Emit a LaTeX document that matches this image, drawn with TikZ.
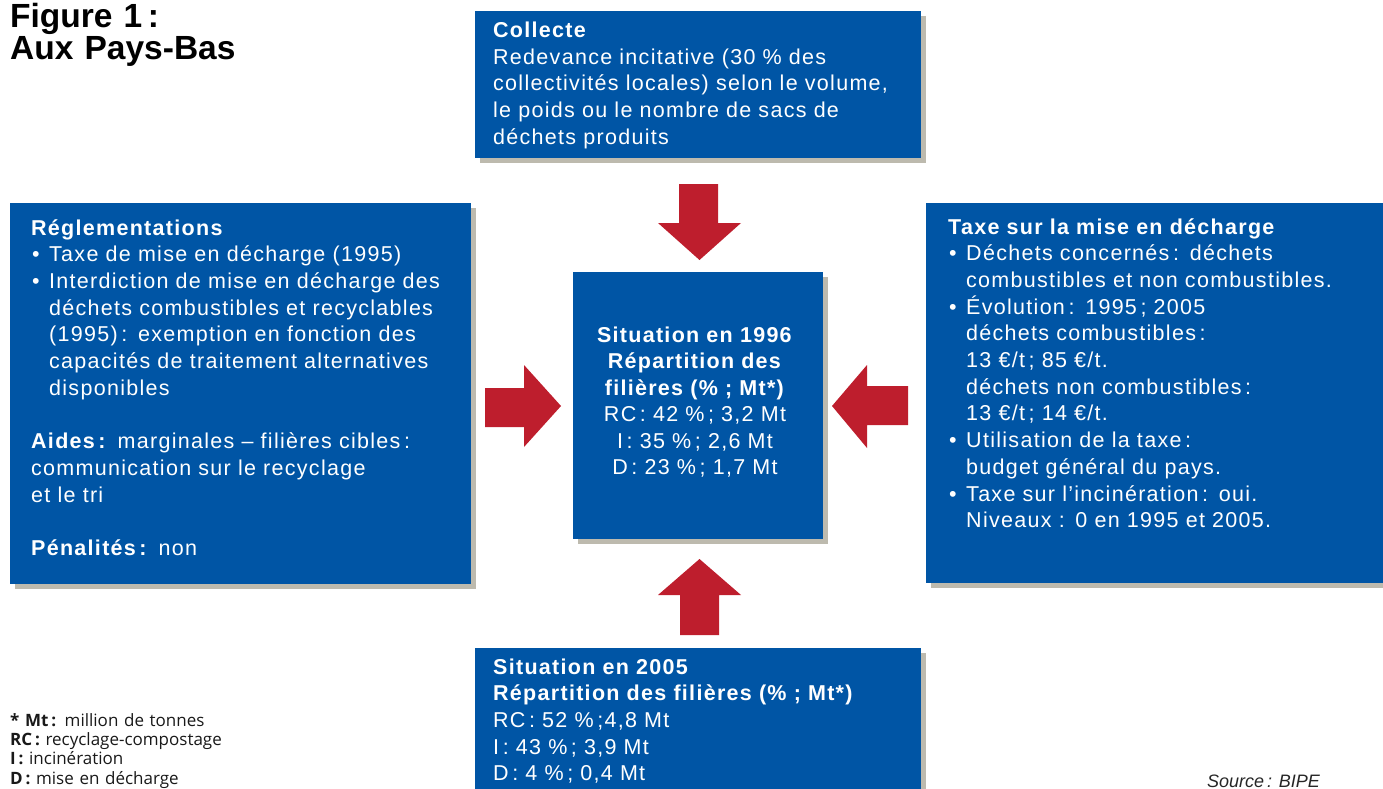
\documentclass[tikz,border=0pt]{standalone}
\usepackage{fontspec}
\setmainfont{Liberation Sans}[LetterSpace=6]
\newfontfamily\titlefont{Liberation Sans}
\newfontfamily\notefont{Open Sans}
\usetikzlibrary{shadows}
\definecolor{boxblue}{HTML}{0055A5}
\definecolor{arrowred}{HTML}{BE1E2D}
\definecolor{shadowgray}{HTML}{BDBAAE}
\newcommand{\bulitem}{\makebox[18pt][l]{\hspace{1pt}\textbullet}}
\newcommand{\indline}{\hspace*{18pt}}
\tikzset{
  bluebox/.style={fill=boxblue, draw=none, inner sep=0pt, anchor=north west,
    general shadow={fill=shadowgray, shadow xshift=5pt, shadow yshift=-5pt}},
  boxtext/.style={text=white, inner sep=0pt, anchor=base west, text width=460pt,
    font=\fontsize{21.5}{26.7}\selectfont},
  centertext/.style={text=white, inner sep=0pt, anchor=base, text width=280pt, align=center,
    font=\fontsize{21.5}{26.5}\selectfont},
  redarrow/.style={fill=arrowred, draw=none},
  notetext/.style={text=black!90, inner sep=0pt, anchor=base west, text width=300pt,
    font=\notefont\fontsize{17}{19.4}\selectfont},
}
\begin{document}
\begin{tikzpicture}[x=1pt,y=-1pt]
\useasboundingbox (0,0) rectangle (1383,789);

% title
\node[inner sep=0pt, anchor=base west, text width=300pt, font=\titlefont\bfseries\fontsize{33.5}{29}\selectfont] (title) at (10,28) {Figure 1\,:\\Aux Pays-Bas};

% boxes
\node[bluebox, minimum width=446pt, minimum height=147pt] (collecte) at (475,11) {};
\node[bluebox, minimum width=461pt, minimum height=381pt] (regl) at (10,203) {};
\node[bluebox, minimum width=250pt, minimum height=267pt] (situation) at (573,272) {};
\node[bluebox, minimum width=457pt, minimum height=380pt] (taxe) at (926,203) {};
\node[bluebox, minimum width=446pt, minimum height=160pt] (bilan) at (475,648) {};

% arrows
\draw[redarrow] (679,184) -- (718,184) -- (718,223) -- (741,223) -- (699.5,260) -- (658,223) -- (679,223) -- cycle;
\draw[redarrow] (680,635) -- (719,635) -- (719,595) -- (741,595) -- (699.5,559) -- (658,595) -- (680,595) -- cycle;
\draw[redarrow] (485,388) -- (524,388) -- (524,365) -- (561,406) -- (524,447) -- (524,427) -- (485,427) -- cycle;
\draw[redarrow] (908,386) -- (867,386) -- (867,365) -- (832,406) -- (867,448) -- (867,425) -- (908,425) -- cycle;

% texts
\node[boxtext] (collecteTxt) at (493,37.5) {\textbf{Collecte}\\
Redevance incitative (30 \% des\\
collectivités locales) selon le volume,\\
le poids ou le nombre de sacs de\\
déchets produits};

\node[boxtext] (reglTxt) at (31,235) {\textbf{Réglementations}\\
\bulitem Taxe de mise en décharge (1995)\\
\bulitem Interdiction de mise en décharge des\\
\indline déchets combustibles et recyclables\\
\indline (1995)\,: exemption en fonction des\\
\indline capacités de traitement alternatives\\
\indline disponibles\\
\mbox{}\\
\textbf{Aides\,:} marginales -- filières cibles\,:\\
communication sur le recyclage\\
et le tri\\
\mbox{}\\
\textbf{Pénalités\,:} non};

\node[centertext] (situationTxt) at (695,342) {\textbf{Situation en 1996}\\
\textbf{Répartition des}\\
\textbf{filières (\% ; Mt*)}\\
RC\,: 42 \%\,; 3,2 Mt\\
I\,: 35 \%\,; 2,6 Mt\\
D\,: 23 \%\,; 1,7 Mt};

\node[boxtext] (taxeTxt) at (948,234) {\textbf{Taxe sur la mise en décharge}\\
\bulitem Déchets concernés\,: déchets\\
\indline combustibles et non combustibles.\\
\bulitem Évolution\,: 1995\,; 2005\\
\indline déchets combustibles\,:\\
\indline 13 €/t\,; 85 €/t.\\
\indline déchets non combustibles\,:\\
\indline 13 €/t\,; 14 €/t.\\
\bulitem Utilisation de la taxe\,:\\
\indline budget général du pays.\\
\bulitem Taxe sur l’incinération\,: oui.\\
\indline Niveaux : 0 en 1995 et 2005.};

\node[boxtext] (bilanTxt) at (493,674) {\textbf{Situation en 2005}\\
\textbf{Répartition des filières (\% ; Mt*)}\\
RC\,: 52 \%\,;4,8 Mt\\
I\,: 43 \%\,; 3,9 Mt\\
D\,: 4 \%\,; 0,4 Mt};

% notes
\node[notetext] (notes) at (10,726) {\textbf{* Mt\,:} million de tonnes\\
\textbf{RC\,:} recyclage-compostage\\
\textbf{I\,:} incinération\\
\textbf{D\,:} mise en décharge};

\node[inner sep=0pt, anchor=base west, text=black!85, font=\titlefont\itshape\fontsize{18}{20}\selectfont] (source) at (1207,787) {Source\,: BIPE};
\end{tikzpicture}
\end{document}
